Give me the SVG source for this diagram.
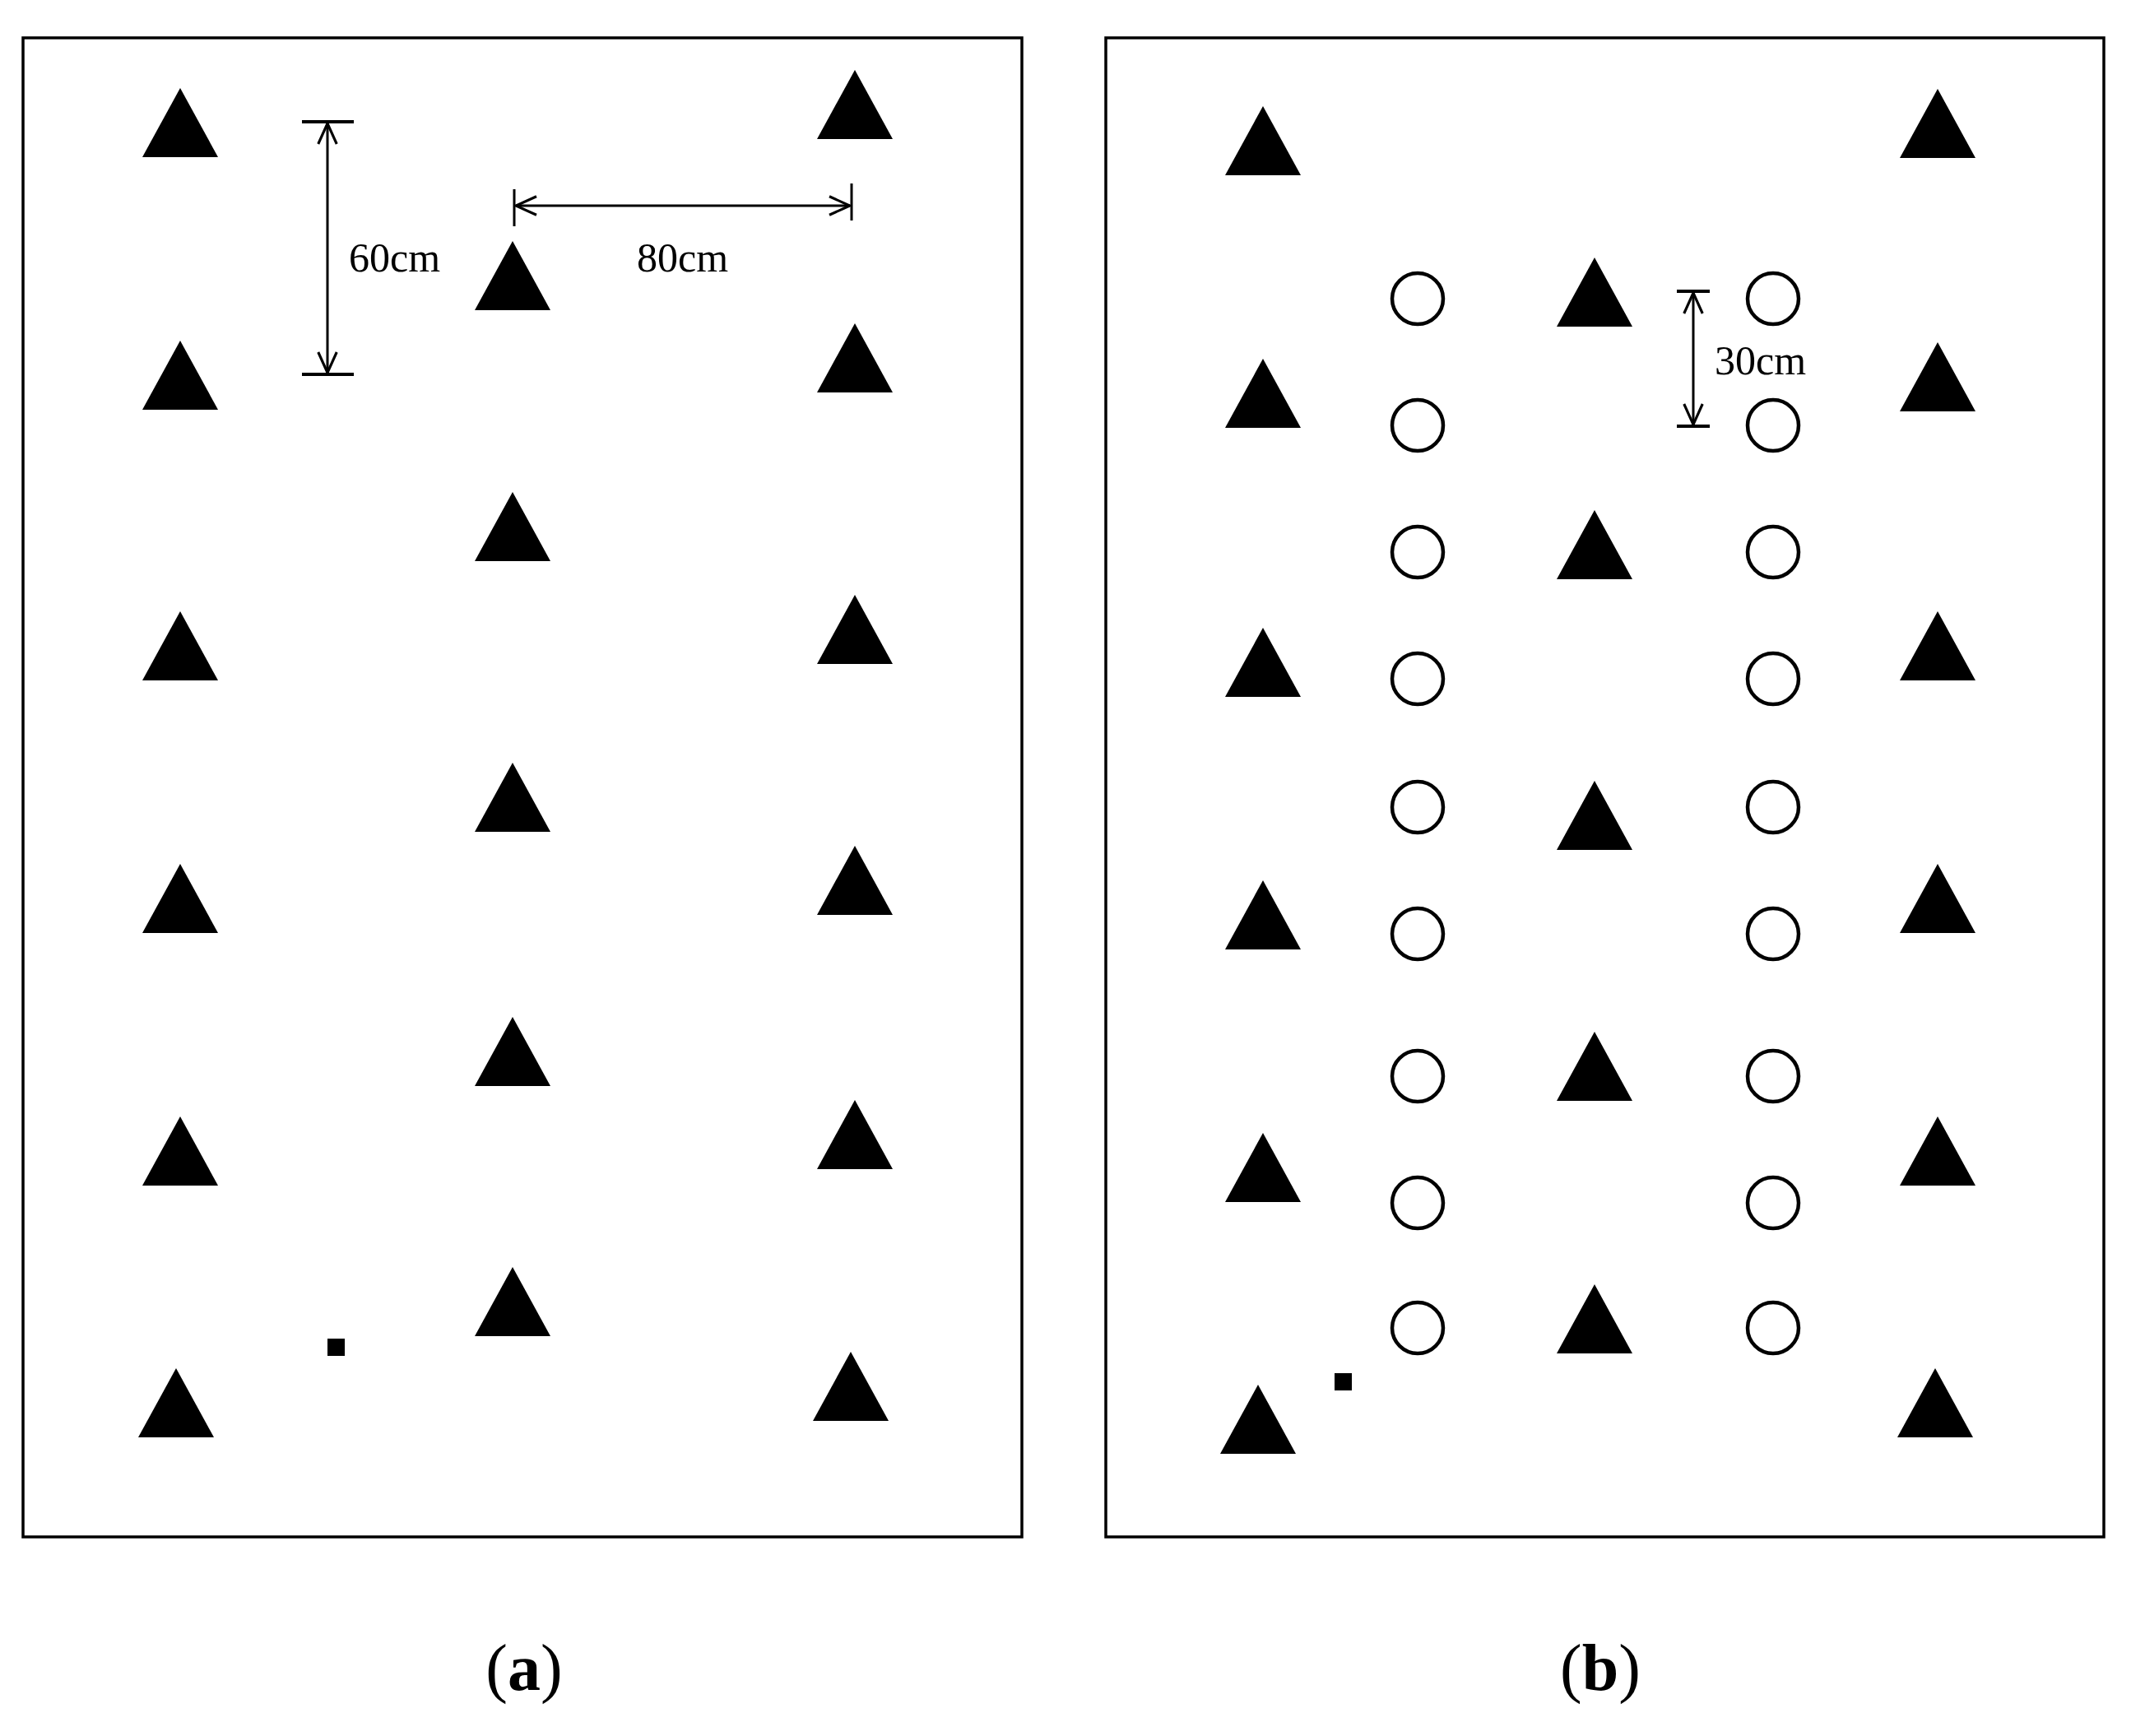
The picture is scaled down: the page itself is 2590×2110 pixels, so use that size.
<svg xmlns="http://www.w3.org/2000/svg" width="2590" height="2110" viewBox="0 0 2590 2110">
<style>
.fr{fill:none;stroke:#000;stroke-width:3.5}
.dl{fill:none;stroke:#000;stroke-width:3}
.tk{fill:none;stroke:#000;stroke-width:4}
.c{fill:none;stroke:#000;stroke-width:4.5}
.t{font-family:"Liberation Serif",serif;font-size:50px;fill:#000}
.lb{font-family:"Liberation Serif",serif;font-size:80px;fill:#000}
</style>
<defs>
<path id="tri" d="M0,-84 L46,0 L-46,0 Z" fill="#000"/>
<circle id="cir" r="31" class="c"/>
<marker id="ah" markerWidth="30" markerHeight="30" refX="22" refY="10" orient="auto-start-reverse" markerUnits="userSpaceOnUse" viewBox="0 0 24 20"><path d="M2,1 L22,10 L2,19" fill="none" stroke="#000" stroke-width="2.5"/></marker>
</defs>
<rect x="28" y="46" width="1214" height="1830" class="fr" transform="translate(0,0) scale(1,1)" style="display:none"/>
<rect x="28" y="46" width="1214" height="1830" fill="none" stroke="#000" stroke-width="3.5" style="display:none"/>
<rect x="28" y="46" width="1214" height="1822" class="fr"/>
<rect x="1344" y="46" width="1213" height="1822" class="fr"/>
<g id="panelA">
<use href="#tri" x="219" y="191"/><use href="#tri" x="219" y="498"/><use href="#tri" x="219" y="827"/><use href="#tri" x="219" y="1134"/><use href="#tri" x="219" y="1441"/><use href="#tri" x="214" y="1747"/>
<use href="#tri" x="623" y="377"/><use href="#tri" x="623" y="682"/><use href="#tri" x="623" y="1011"/><use href="#tri" x="623" y="1320"/><use href="#tri" x="623" y="1624"/>
<use href="#tri" x="1039" y="169"/><use href="#tri" x="1039" y="477"/><use href="#tri" x="1039" y="807"/><use href="#tri" x="1039" y="1112"/><use href="#tri" x="1039" y="1421"/><use href="#tri" x="1034" y="1727"/>
<rect x="398" y="1627" width="21" height="21" fill="#000"/>
</g>
<g id="panelB">
<use href="#tri" x="1535" y="213"/><use href="#tri" x="1535" y="520"/><use href="#tri" x="1535" y="847"/><use href="#tri" x="1535" y="1154"/><use href="#tri" x="1535" y="1461"/><use href="#tri" x="1529" y="1767"/>
<use href="#tri" x="1938" y="397"/><use href="#tri" x="1938" y="704"/><use href="#tri" x="1938" y="1033"/><use href="#tri" x="1938" y="1338"/><use href="#tri" x="1938" y="1645"/>
<use href="#tri" x="2355" y="192"/><use href="#tri" x="2355" y="500"/><use href="#tri" x="2355" y="827"/><use href="#tri" x="2355" y="1134"/><use href="#tri" x="2355" y="1441"/><use href="#tri" x="2352" y="1747"/>
<use href="#cir" x="1723" y="363"/><use href="#cir" x="1723" y="517"/><use href="#cir" x="1723" y="671"/><use href="#cir" x="1723" y="825"/><use href="#cir" x="1723" y="981"/><use href="#cir" x="1723" y="1135"/><use href="#cir" x="1723" y="1308"/><use href="#cir" x="1723" y="1462"/><use href="#cir" x="1723" y="1614"/>
<use href="#cir" x="2155" y="363"/><use href="#cir" x="2155" y="517"/><use href="#cir" x="2155" y="671"/><use href="#cir" x="2155" y="825"/><use href="#cir" x="2155" y="981"/><use href="#cir" x="2155" y="1135"/><use href="#cir" x="2155" y="1308"/><use href="#cir" x="2155" y="1462"/><use href="#cir" x="2155" y="1614"/>
<rect x="1622" y="1669" width="21" height="21" fill="#000"/>
</g>
<g id="connectors">
<line x1="367" y1="148" x2="430" y2="148" class="tk"/><line x1="367" y1="455" x2="430" y2="455" class="tk"/>
<line x1="398" y1="150" x2="398" y2="453" class="dl" marker-start="url(#ah)" marker-end="url(#ah)"/>
<line x1="625" y1="230" x2="625" y2="275" class="dl"/><line x1="1035" y1="223" x2="1035" y2="268" class="dl"/>
<line x1="627" y1="250" x2="1033" y2="250" class="dl" marker-start="url(#ah)" marker-end="url(#ah)"/>
<line x1="2038" y1="354" x2="2078" y2="354" class="tk"/><line x1="2038" y1="518" x2="2078" y2="518" class="tk"/>
<line x1="2058" y1="356" x2="2058" y2="516" class="dl" marker-start="url(#ah)" marker-end="url(#ah)"/>
</g>
<text x="424" y="330" class="t">60cm</text>
<text x="774" y="330" class="t">80cm</text>
<text x="2084" y="455" class="t">30cm</text>
<text x="637" y="2054" class="lb" text-anchor="middle">(<tspan font-weight="bold">a</tspan>)</text>
<text x="1945" y="2054" class="lb" text-anchor="middle">(<tspan font-weight="bold">b</tspan>)</text>
</svg>
